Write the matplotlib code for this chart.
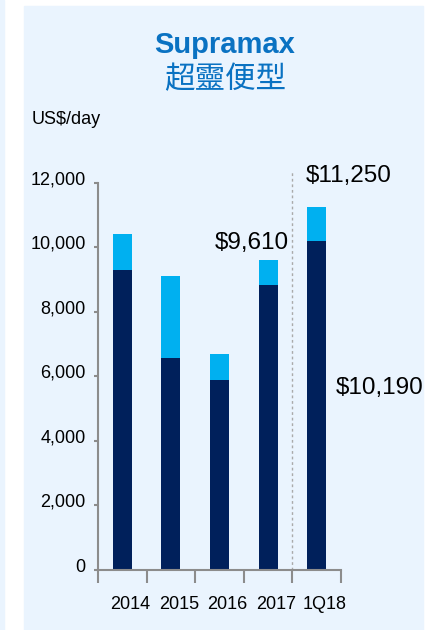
import matplotlib.pyplot as plt
from matplotlib.patches import Rectangle
from matplotlib.transforms import ScaledTranslation

# data (US$/day)
years = ['2014', '2015', '2016', '2017', '1Q18']
base = [9300, 6580, 5890, 8840, 10190]
total = [10420, 9120, 6700, 9610, 11250]
top = [t - b for t, b in zip(total, base)]
y_ticks = [0, 2000, 4000, 6000, 8000, 10000, 12000]

navy = '#00205B'
cyan = '#00B0F0'
panel = '#EAF4FE'
title_blue = '#0A72C2'
axis_grey = '#8C8C8C'

plt.rcParams['font.family'] = ['Liberation Sans', 'Noto Sans CJK TC', 'DejaVu Sans']

fig = plt.figure(figsize=(4.32, 6.3), dpi=100)
fig.patch.set_facecolor('white')

# background panels
fig.add_artist(Rectangle((24 / 432, 0), 399 / 432, 624 / 630,
                         transform=fig.transFigure, color=panel, zorder=0))
fig.add_artist(Rectangle((0, 0), 4 / 432, 1,
                         transform=fig.transFigure, color=panel, zorder=0))

fig.text(225 / 432, 1 - 45 / 630, 'Supramax', ha='center', va='center',
         fontsize=21, fontweight='bold', color=title_blue)
fig.text(225 / 432, 1 - 80 / 630, '超靈便型', ha='center', va='center',
         fontsize=22, color=title_blue, family=['Noto Sans CJK TC'])
fig.text(32 / 432, 1 - 119 / 630, 'US$/day', ha='left', va='center',
         fontsize=13, color='black')

ax = fig.add_axes([98 / 432, 60 / 630, 243 / 432, 400 / 630])
ax.set_facecolor('none')

x = list(range(len(years)))
ax.bar(x, base, width=0.39, color=navy, zorder=2)
ax.bar(x, top, bottom=base, width=0.39, color=cyan, zorder=2, clip_on=False)

ax.set_xlim(-0.5, 4.5)
ax.set_ylim(0, 12400)
ax.set_yticks(y_ticks)
ax.set_yticklabels([f'{v:,}' for v in y_ticks], fontsize=13)
ax.set_xticks(x)
ax.set_xticklabels(years, fontsize=13)
ax.tick_params(axis='x', length=0, pad=19)
ax.set_xticks([i - 0.5 for i in range(len(years) + 1)], minor=True)
ax.tick_params(axis='x', which='minor', length=9, width=1.5, color=axis_grey)
ax.tick_params(axis='y', length=3, width=1.5, color=axis_grey, pad=6)

# labels in the original sit a little off their ticks
for lab in ax.get_xticklabels():
    lab.set_transform(lab.get_transform() + ScaledTranslation(8 / 100, 0, fig.dpi_scale_trans))
for lab in ax.get_yticklabels():
    lab.set_transform(lab.get_transform() + ScaledTranslation(0, 5 / 100, fig.dpi_scale_trans))

for side in ['top', 'right']:
    ax.spines[side].set_visible(False)
for side in ['left', 'bottom']:
    ax.spines[side].set_color(axis_grey)
    ax.spines[side].set_linewidth(1.5)
ax.spines['left'].set_bounds(0, 12000)

ax.axvline(3.5, color='#AAAAAA', linestyle=(0, (2, 2)), linewidth=1, zorder=1)

ax.text(3.43, 10140, '$9,610', ha='right', va='center', fontsize=17.5)
ax.text(3.78, 12220, '$11,250', ha='left', va='center', fontsize=17.5, clip_on=False)
ax.text(4.40, 5640, '$10,190', ha='left', va='center', fontsize=17.5, clip_on=False)

plt.savefig('out.png', dpi=100)
